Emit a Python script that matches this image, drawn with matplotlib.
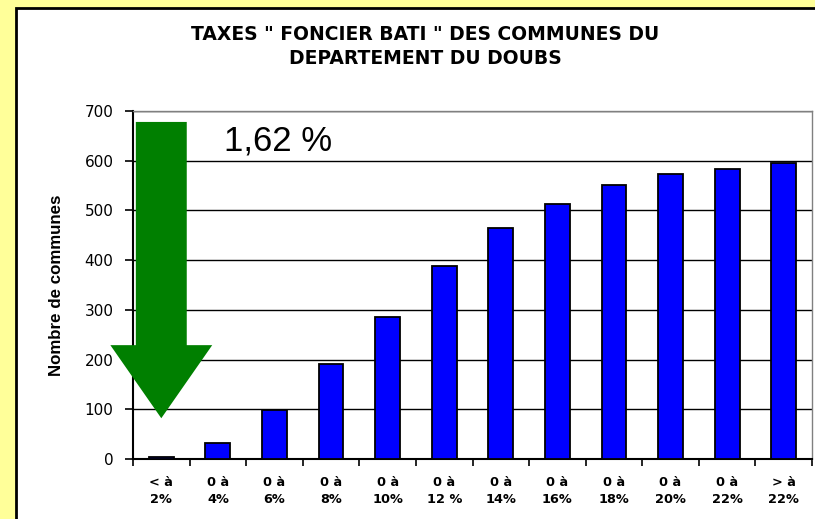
import matplotlib
matplotlib.use("Agg")
import matplotlib.pyplot as plt
from matplotlib.patches import Rectangle, FancyArrow
import numpy as np

plt.rcParams['font.family'] = ['Liberation Sans', 'DejaVu Sans']

categories = ["< à\n2%", "0 à\n4%", "0 à\n6%", "0 à\n8%", "0 à\n10%", "0 à\n12 %",
              "0 à\n14%", "0 à\n16%", "0 à\n18%", "0 à\n20%", "0 à\n22%", "> à\n22%"]
values = [5, 33, 98, 191, 286, 388, 465, 513, 552, 574, 584, 596]
yticks = [0, 100, 200, 300, 400, 500, 600, 700]
title = 'TAXES " FONCIER BATI " DES COMMUNES DU\nDEPARTEMENT DU DOUBS'
annotation = "1,62 %"
arrow_top, arrow_head_base, arrow_tip = 678, 229, 82

fig = plt.figure(figsize=(8.15, 5.19), dpi=100)
fig.patch.set_facecolor('#FFFF99')

# white chart area with black border
fig.add_artist(Rectangle((15.5 / 815, -0.05), 1.2, (519 - 7.5) / 519 + 0.05,
                         transform=fig.transFigure, facecolor='white',
                         edgecolor='black', linewidth=2, zorder=0))

ax = fig.add_axes([133 / 815, (519 - 459) / 519, (812 - 133) / 815, (459 - 111) / 519])
x = np.arange(len(categories))
ax.bar(x, values, width=0.44, color='#0000FF', edgecolor='black', linewidth=1.3, zorder=3)

ax.set_xlim(-0.5, len(categories) - 0.5)
ax.set_ylim(0, 700)
ax.set_yticks(yticks)
ax.set_yticklabels([str(v) for v in yticks], fontsize=11, family='DejaVu Sans')
ax.set_xticks(x)
ax.set_xticklabels(categories, fontsize=9.3, fontweight='bold', linespacing=1.45,
                   family='DejaVu Sans')
ax.tick_params(axis='x', length=0, pad=12)
ax.set_xticks(np.arange(-0.5, len(categories), 1), minor=True)
ax.tick_params(axis='x', which='minor', length=5, width=1.2, direction='out')
ax.tick_params(axis='y', length=6, width=1.2, direction='out', pad=8)

ax.yaxis.grid(True, color='black', linewidth=1.0, zorder=0)
ax.set_axisbelow(True)
for s in ['top', 'right']:
    ax.spines[s].set_color('#808080')
    ax.spines[s].set_linewidth(1.0)
for s in ['left', 'bottom']:
    ax.spines[s].set_color('black')
    ax.spines[s].set_linewidth(1.5)

ax.set_ylabel("Nombre de communes", fontsize=12.2, fontweight='bold',
              family='Liberation Sans', labelpad=15)

arrow = FancyArrow(0.0, arrow_top, 0, arrow_tip - arrow_top, width=0.9, head_width=1.8,
                   head_length=arrow_head_base - arrow_tip, length_includes_head=True,
                   color='#007F00', linewidth=0, zorder=5, clip_on=False)
ax.add_patch(arrow)
ax.text(1.1, 640, annotation, fontsize=25, ha='left', va='center', zorder=6)

fig.text(425 / 815, 1 - 46.5 / 519, title, ha='center', va='center', fontsize=13.5,
         fontweight='bold', linespacing=1.35, family='DejaVu Sans')

fig.savefig("out.png", dpi=100, facecolor=fig.get_facecolor())
